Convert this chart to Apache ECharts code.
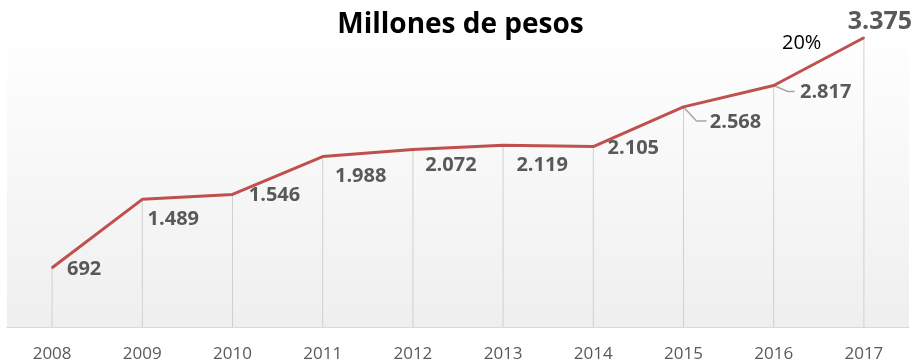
<!DOCTYPE html>
<html><head><meta charset="utf-8">
<script src="https://cdn.jsdelivr.net/npm/echarts@6/dist/echarts.min.js"></script>
<style>html,body{margin:0;padding:0;background:#fff}#c{width:921px;height:364px}</style>
</head><body><div id="c"></div>
<script>
const titleText = "Millones de pesos";
const years = ["2008","2009","2010","2011","2012","2013","2014","2015","2016","2017"];
const values = [692, 1489, 1546, 1988, 2072, 2119, 2105, 2568, 2817, 3375];
const annotation = "20%";
const leaderIdx = [7, 8];

// label offsets and leader-line shapes (style only)
const labelOffsets = [[32,2],[31,20],[42,1],[38,20],[38,16],[39,20],[40,2],[52,15],[52,7],[16,-16]];
const leaderShapes = {7:[[13,14],[23,14]], 8:[[14,6],[21,6]]};
const fmt = v => String(v).replace(/\B(?=(\d{3})+(?!\d))/g, ".");

const chart = echarts.init(document.getElementById('c'));
const lineData = values.map((v,i)=>{
  const item = {value:v, label:{offset:labelOffsets[i]}};
  if (i === values.length-1) item.label.fontSize = 25;
  return item;
});
chart.setOption({
  animation:false,
  title:{text:titleText, left:'center', top:6,
    textStyle:{fontFamily:'Open Sans', fontWeight:'bold', fontSize:28, color:'#000'}},
  grid:{left:7, right:12, top:27, bottom:37, show:true, borderWidth:0,
    backgroundColor:new echarts.graphic.LinearGradient(0,0,0,1,[{offset:0,color:'#ffffff'},{offset:1,color:'#efefef'}])},
  xAxis:{type:'category', data:years, boundaryGap:true,
    axisLine:{lineStyle:{color:'#d9d9d9'}}, axisTick:{show:false},
    axisLabel:{color:'#595959', fontFamily:'Open Sans', fontSize:17, margin:19}},
  yAxis:{type:'value', min:0, max:3500, show:false, splitLine:{show:false}},
  series:[
    {type:'bar', data:values, barWidth:1, itemStyle:{color:'#d0d0d0'}, silent:true, z:1},
    {type:'custom', z:2, silent:true,
      data:leaderIdx.map(i=>[i, values[i]]),
      renderItem:(params, api)=>{
        const idx = api.value(0);
        const p = api.coord([idx, api.value(1)]);
        const s = leaderShapes[idx];
        return {type:'polyline', shape:{points:[p,[p[0]+s[0][0],p[1]+s[0][1]],[p[0]+s[1][0],p[1]+s[1][1]]]},
          style:{stroke:'#a6a6a6', lineWidth:1.5, fill:null}};
      }},
    {type:'line', data:lineData, showSymbol:true, symbol:'circle', symbolSize:2, z:3,
      itemStyle:{color:'#c0504d'},
      lineStyle:{color:'#c0504d', width:3},
      label:{show:true, position:'inside', formatter:p=>fmt(p.value),
        fontFamily:'Open Sans', fontWeight:'bold', fontSize:20, color:'#595959'}}
  ],
  graphic:[{type:'text', left:782, top:33, style:{text:annotation, fontFamily:'Open Sans', fontSize:20, fill:'#000'}}]
});
</script></body></html>
